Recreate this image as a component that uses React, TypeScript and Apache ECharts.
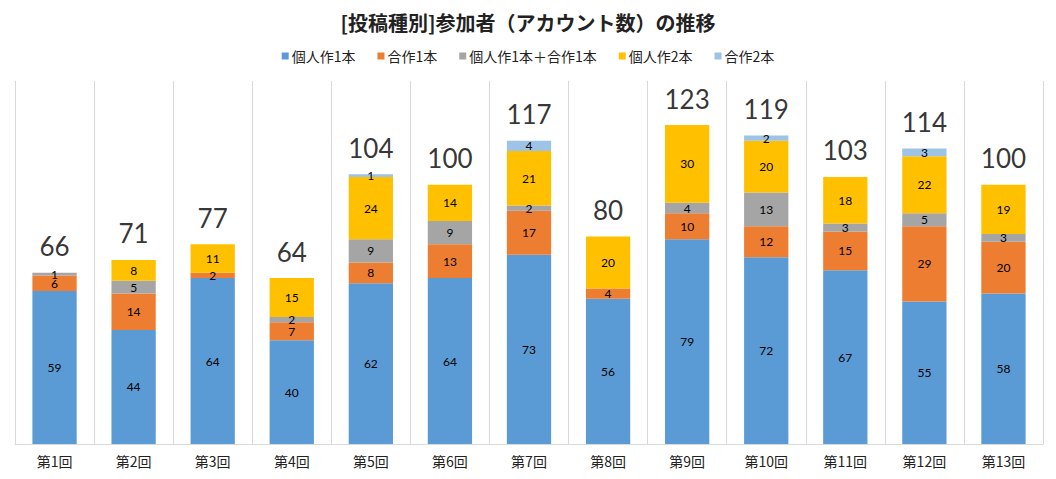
import React, { useEffect, useRef } from "react";
import * as echarts from "echarts";

const categories = ["第1回", "第2回", "第3回", "第4回", "第5回", "第6回", "第7回", "第8回", "第9回", "第10回", "第11回", "第12回", "第13回"];
const seriesNames = ["個人作1本", "合作1本", "個人作1本＋合作1本", "個人作2本", "合作2本"];
const solo1 = [59, 44, 64, 40, 62, 64, 73, 56, 79, 72, 67, 55, 58];
const collab1 = [6, 14, 2, 7, 8, 13, 17, 4, 10, 12, 15, 29, 20];
const soloCollab = [1, 5, 0, 2, 9, 9, 2, 0, 4, 13, 3, 5, 3];
const solo2 = [0, 8, 11, 15, 24, 14, 21, 20, 30, 20, 18, 22, 19];
const collab2 = [0, 0, 0, 0, 1, 0, 4, 0, 0, 2, 0, 3, 0];
const colors = ["#5B9BD5", "#ED7D31", "#A5A5A5", "#FFC000", "#9DC3E6"];

export default function App() {
  const ref = useRef<HTMLDivElement>(null);
  useEffect(() => {
    if (!ref.current) return;
    const chart = echarts.init(ref.current, undefined, { renderer: "svg" });
    const all = [solo1, collab1, soloCollab, solo2, collab2];
    const totals = categories.map((_, i) => all.reduce((s, a) => s + a[i], 0));
    const barSeries = all.map((arr, k) => ({
      name: seriesNames[k],
      type: "bar",
      stack: "total",
      data: arr,
      barCategoryGap: "44%",
      itemStyle: { color: colors[k] },
      label: {
        show: true,
        position: "inside",
        fontFamily: "Lato",
        fontSize: 12,
        color: "#000",
        formatter: (p: any) => (p.value ? String(p.value) : ""),
      },
    }));
    chart.setOption({
      animation: false,
      color: colors,
      title: {
        text: "[投稿種別]参加者（アカウント数）の推移",
        left: "center",
        top: 7,
        textStyle: { fontFamily: "Noto Sans CJK JP", fontSize: 20, fontWeight: "bold", color: "#222" },
      },
      legend: {
        top: 44,
        left: "center",
        icon: "rect",
        itemWidth: 7,
        itemHeight: 7,
        itemGap: 22,
        data: seriesNames,
        textStyle: { fontFamily: "Noto Sans CJK JP", fontSize: 14, color: "#222", padding: [0, 0, 0, -2] },
      },
      grid: { left: 15, right: 13, top: 81, bottom: 35 },
      xAxis: {
        type: "category",
        data: categories,
        axisTick: { show: false },
        axisLine: { lineStyle: { color: "#D9D9D9" } },
        splitLine: { show: true, lineStyle: { color: "#D9D9D9" } },
        axisLabel: { fontFamily: "Noto Sans CJK JP", fontSize: 14, color: "#222", margin: 10 },
      },
      yAxis: {
        type: "value",
        min: 0,
        max: 140,
        show: false,
        splitLine: { show: false },
      },
      series: [
        ...barSeries,
        {
          name: "total",
          type: "scatter",
          data: totals,
          symbolSize: 1,
          itemStyle: { color: "rgba(0,0,0,0)" },
          silent: true,
          label: {
            show: true,
            position: "top",
            distance: 13,
            fontFamily: "Lato",
            fontSize: 26,
            color: "#000",
          },
        },
      ],
    });
    return () => chart.dispose();
  }, []);
  return (
    <div
      ref={ref}
      style={{ position: "absolute", left: 0, top: 0, width: 1056, height: 479, background: "#fff" }}
    />
  );
}
